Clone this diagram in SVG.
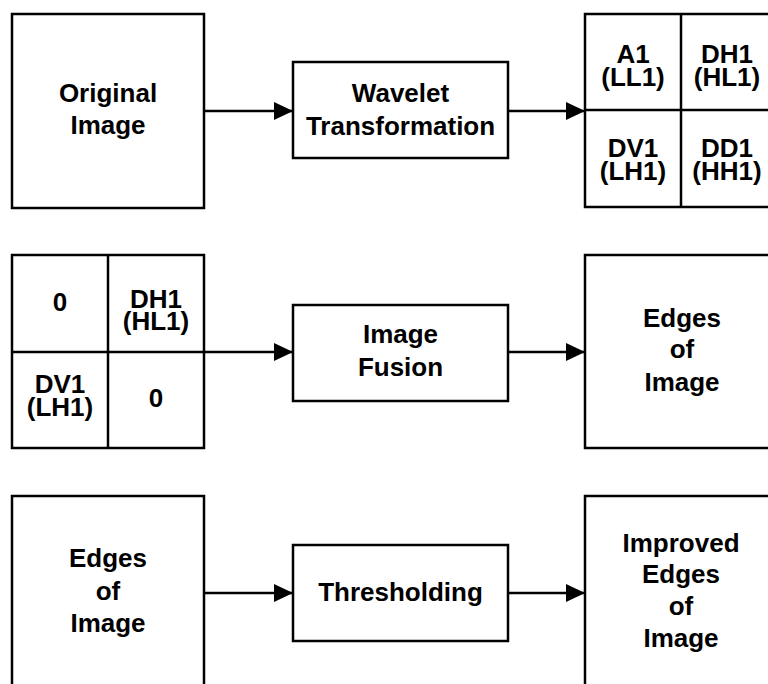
<svg xmlns="http://www.w3.org/2000/svg" width="768" height="684" viewBox="0 0 768 684">
<style>
.b{fill:#fff;stroke:#000;stroke-width:2.5}
.l{fill:none;stroke:#000;stroke-width:2.5}
.c{stroke:#000;stroke-width:2.5;fill:none}
text{font-family:"Liberation Sans",Arial,sans-serif;font-weight:bold;font-size:26px;text-anchor:middle;fill:#000}
</style>
<defs>
<marker id="ah" markerUnits="userSpaceOnUse" markerWidth="20" markerHeight="20" refX="19" refY="9" orient="auto">
<path d="M0,0 L19,9 L0,18 Z" fill="#000"/>
</marker>
</defs>
<rect width="768" height="684" fill="#fff"/>
<g id="connectors">
<line class="c" x1="204" y1="111" x2="293" y2="111" marker-end="url(#ah)"/>
<line class="c" x1="508" y1="111" x2="585" y2="111" marker-end="url(#ah)"/>
<line class="c" x1="204" y1="352" x2="293" y2="352" marker-end="url(#ah)"/>
<line class="c" x1="508" y1="352" x2="585" y2="352" marker-end="url(#ah)"/>
<line class="c" x1="204" y1="593" x2="293" y2="593" marker-end="url(#ah)"/>
<line class="c" x1="508" y1="593" x2="585" y2="593" marker-end="url(#ah)"/>
</g>
<g id="original">
<rect class="b" x="12" y="14" width="192" height="194"/>
<text x="108" y="102">Original</text>
<text x="108" y="134">Image</text>
</g>
<g id="wavelet">
<rect class="b" x="293" y="62" width="215" height="96"/>
<text x="400.5" y="102">Wavelet</text>
<text x="400.5" y="135">Transformation</text>
</g>
<g id="subbands1">
<rect class="b" x="585" y="14" width="190" height="193"/>
<line class="l" x1="681" y1="14" x2="681" y2="207"/>
<line class="l" x1="585" y1="110" x2="775" y2="110"/>
<text x="633" y="63">A1</text>
<text x="633" y="86">(LL1)</text>
<text x="727" y="63">DH1</text>
<text x="727" y="86">(HL1)</text>
<text x="633" y="157">DV1</text>
<text x="633" y="180">(LH1)</text>
<text x="727" y="157">DD1</text>
<text x="727" y="180">(HH1)</text>
</g>
<g id="subbands2">
<rect class="b" x="12" y="255" width="192" height="193"/>
<line class="l" x1="108" y1="255" x2="108" y2="448"/>
<line class="l" x1="12" y1="352" x2="204" y2="352"/>
<text x="60" y="311">0</text>
<text x="156" y="308">DH1</text>
<text x="156" y="330">(HL1)</text>
<text x="60" y="393">DV1</text>
<text x="60" y="416">(LH1)</text>
<text x="156" y="407">0</text>
</g>
<g id="fusion">
<rect class="b" x="293" y="305" width="215" height="96"/>
<text x="400.5" y="343">Image</text>
<text x="400.5" y="376">Fusion</text>
</g>
<g id="edges1">
<rect class="b" x="585" y="255" width="192" height="193"/>
<text x="682" y="327">Edges</text>
<text x="682" y="358">of</text>
<text x="682" y="391">Image</text>
</g>
<g id="edges2">
<rect class="b" x="12" y="496" width="192" height="210"/>
<text x="108" y="567">Edges</text>
<text x="108" y="600">of</text>
<text x="108" y="632">Image</text>
</g>
<g id="thresholding">
<rect class="b" x="293" y="545" width="215" height="96"/>
<text x="400.5" y="601">Thresholding</text>
</g>
<g id="improved">
<rect class="b" x="585" y="496" width="192" height="210"/>
<text x="681" y="552">Improved</text>
<text x="681" y="583">Edges</text>
<text x="681" y="615">of</text>
<text x="681" y="647">Image</text>
</g>
</svg>
